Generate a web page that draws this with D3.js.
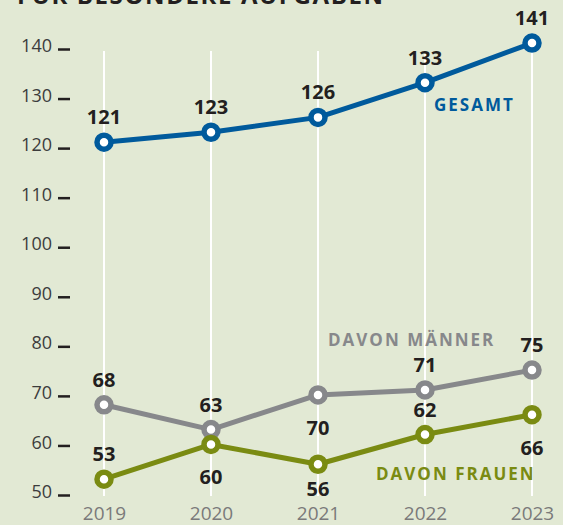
<!DOCTYPE html>
<html>
<head>
<meta charset="utf-8">
<script src="https://cdn.jsdelivr.net/npm/d3@7"></script>
<style>
  html, body { margin: 0; padding: 0; background: #e2e9d4; }
  svg { display: block; font-family: "Open Sans", "Noto Sans", sans-serif; }
</style>
</head>
<body>
<script>
// Data
var years = ["2019", "2020", "2021", "2022", "2023"];
var gesamt = [121, 123, 126, 133, 141];
var maenner = [68, 63, 70, 71, 75];
var frauen = [53, 60, 56, 62, 66];
var yTicks = [50, 60, 70, 80, 90, 100, 110, 120, 130, 140];

// where each value label sits relative to its point
var gesamtSide = ["up", "up", "up", "up", "up"];
var maennerSide = ["up", "up", "down", "up", "up"];
var frauenSide = ["up", "down", "down", "up", "down"];

var width = 563, height = 525;

var x = d3.scalePoint()
    .domain(years)
    .range([104, 532]);

var y = d3.scaleLinear()
    .domain([50, 140])
    .range([494, 48]);

var svg = d3.select("body")
    .append("svg")
        .attr("width", width)
        .attr("height", height);

svg.append("rect")
    .attr("width", width)
    .attr("height", height)
    .attr("fill", "#e2e9d4");

// Title (cut off at the top, as in the original)
svg.append("text")
    .attr("x", 17)
    .attr("y", 4)
    .attr("font-size", 24)
    .attr("font-weight", 700)
    .attr("letter-spacing", 1.6)
    .attr("fill", "#231f20")
    .text("FÜR BESONDERE AUFGABEN");

// White vertical grid lines
svg.selectAll(".grid")
    .data(years)
  .enter().append("line")
    .attr("class", "grid")
    .attr("x1", function(d) { return x(d); })
    .attr("x2", function(d) { return x(d); })
    .attr("y1", y(140) + 3)
    .attr("y2", y(50) + 2)
    .attr("stroke", "#ffffff")
    .attr("stroke-width", 2);

// Y axis
var yAxis = d3.axisLeft(y)
    .tickValues(yTicks)
    .tickSize(12)
    .tickPadding(6);

var gy = svg.append("g")
    .attr("transform", "translate(70,0)")
    .call(yAxis);
gy.select(".domain").remove();
gy.selectAll(".tick line")
    .attr("stroke", "#231f20")
    .attr("stroke-width", 2.5)
    .attr("transform", "translate(0,1)");
gy.selectAll(".tick text")
    .attr("font-family", "'Open Sans', 'Noto Sans', sans-serif")
    .attr("font-size", 18)
    .attr("font-weight", 400)
    .attr("fill", "#3c3c3c")
    .attr("dy", "0.2em");

// X axis
var xAxis = d3.axisBottom(x).tickSize(0).tickPadding(9);
var gx = svg.append("g")
    .attr("transform", "translate(0,498)")
    .call(xAxis);
gx.select(".domain").remove();
gx.selectAll(".tick text")
    .attr("font-family", "'Open Sans', 'Noto Sans', sans-serif")
    .attr("font-size", 19)
    .attr("font-weight", 400)
    .attr("fill", "#7a7a7a");

var series = [
    {name: "gesamt", values: gesamt, side: gesamtSide, color: "#005a9c"},
    {name: "maenner", values: maenner, side: maennerSide, color: "#87888b"},
    {name: "frauen", values: frauen, side: frauenSide, color: "#7a8b12"}
];

var line = d3.line()
    .x(function(d, i) { return x(years[i]); })
    .y(function(d) { return y(d); });

series.forEach(function(s) {
    svg.append("path")
        .datum(s.values)
        .attr("fill", "none")
        .attr("stroke", s.color)
        .attr("stroke-width", 5)
        .attr("stroke-linejoin", "round")
        .attr("d", line);
});

series.forEach(function(s) {
    svg.selectAll(".dot-" + s.name)
        .data(s.values)
      .enter().append("circle")
        .attr("class", "dot-" + s.name)
        .attr("cx", function(d, i) { return x(years[i]); })
        .attr("cy", function(d) { return y(d); })
        .attr("r", 7)
        .attr("fill", "#ffffff")
        .attr("stroke", s.color)
        .attr("stroke-width", 5.5);
});

// Value labels (kept clear of the year labels at the bottom)
series.forEach(function(s) {
    svg.selectAll(".lbl-" + s.name)
        .data(s.values)
      .enter().append("text")
        .attr("class", "lbl-" + s.name)
        .attr("x", function(d, i) { return x(years[i]); })
        .attr("y", function(d, i) {
            return s.side[i] === "up" ? y(d) - 25 : Math.min(y(d) + 33, 489);
        })
        .attr("dy", "0.35em")
        .attr("text-anchor", "middle")
        .attr("font-size", 20)
        .attr("font-weight", 700)
        .attr("fill", "#231f20")
        .text(function(d) { return d; });
});

// Series names
var names = [
    {text: "GESAMT", color: "#005a9c", x: x("2022") + 9, y: 105},
    {text: "DAVON MÄNNER", color: "#87888b", x: 328, y: 340},
    {text: "DAVON FRAUEN", color: "#7a8b12", x: 376, y: 474}
];

svg.selectAll(".name")
    .data(names)
  .enter().append("text")
    .attr("class", "name")
    .attr("x", function(d) { return d.x; })
    .attr("y", function(d) { return d.y; })
    .attr("dy", "0.35em")
    .attr("font-size", 17)
    .attr("font-weight", 700)
    .attr("letter-spacing", 2)
    .attr("fill", function(d) { return d.color; })
    .text(function(d) { return d.text; });
</script>
</body>
</html>
